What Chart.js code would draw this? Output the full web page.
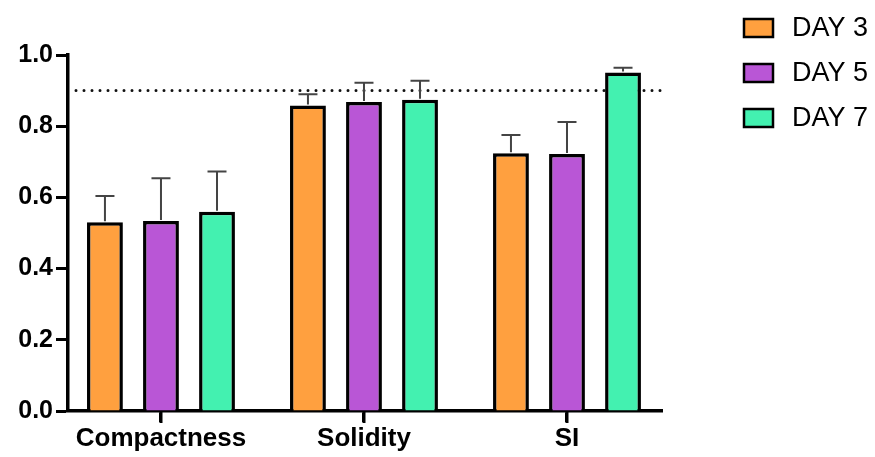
<!DOCTYPE html>
<html>
<head>
<meta charset="utf-8">
<script src="https://cdn.jsdelivr.net/npm/chart.js@4/dist/chart.umd.min.js"></script>
<style>
html,body{margin:0;padding:0;background:#fff;}
#wrap{width:875px;height:457px;position:relative;}
</style>
</head>
<body>
<div id="wrap"><canvas id="c" width="875" height="457"></canvas></div>
<script>
const categories = ["Compactness", "Solidity", "SI"];
const seriesNames = ["DAY 3", "DAY 5", "DAY 7"];
const day3 = [0.530, 0.858, 0.724];
const day5 = [0.534, 0.868, 0.722];
const day7 = [0.560, 0.874, 0.951];
const day3Err = [0.074, 0.032, 0.051];
const day5Err = [0.120, 0.054, 0.090];
const day7Err = [0.113, 0.054, 0.013];
const yTicks = [0.0, 0.2, 0.4, 0.6, 0.8, 1.0];
const refLine = 0.9;

const colors = ["#FFA03F", "#B956D6", "#43F1B0"];
const FONT = "'Liberation Sans', Arial, Helvetica, sans-serif";

function toPoints(vals){ return vals.map((v,i)=>({x:i, y:v})); }
const values = [day3, day5, day7];
const errs = [day3Err, day5Err, day7Err];

const errorBars = {
  id: 'errorBars',
  afterDatasetsDraw(chart){
    const ctx = chart.ctx, y = chart.scales.y;
    ctx.save();
    ctx.strokeStyle = '#444';
    ctx.lineWidth = 2;
    chart.data.datasets.forEach((ds, di) => {
      const meta = chart.getDatasetMeta(di);
      meta.data.forEach((bar, i) => {
        const top = y.getPixelForValue(values[di][i] + errs[di][i]);
        ctx.beginPath();
        ctx.moveTo(bar.x, bar.y - 1);
        ctx.lineTo(bar.x, top);
        ctx.moveTo(bar.x - 9.5, top);
        ctx.lineTo(bar.x + 9.5, top);
        ctx.stroke();
      });
    });
    ctx.restore();
  }
};

const refLinePlugin = {
  id: 'refLine',
  beforeDatasetsDraw(chart){
    const ctx = chart.ctx, y = chart.scales.y, a = chart.chartArea;
    const py = y.getPixelForValue(refLine);
    ctx.save();
    ctx.strokeStyle = '#111';
    ctx.lineWidth = 3;
    ctx.lineCap = 'round';
    ctx.setLineDash([0, 8]);
    ctx.beginPath();
    ctx.moveTo(a.left + 8, py);
    ctx.lineTo(a.right, py);
    ctx.stroke();
    ctx.restore();
  }
};

const xTickMarks = {
  id: 'xTickMarks',
  afterDraw(chart){
    const ctx = chart.ctx, x = chart.scales.x, a = chart.chartArea;
    ctx.save();
    ctx.strokeStyle = '#000';
    ctx.lineWidth = 3;
    categories.forEach((c, i) => {
      const px = Math.round(x.getPixelForValue(i));
      ctx.beginPath();
      ctx.moveTo(px, a.bottom);
      ctx.lineTo(px, a.bottom + 12);
      ctx.stroke();
    });
    ctx.restore();
  }
};

const legendPlugin = {
  id: 'customLegend',
  afterDraw(chart){
    const ctx = chart.ctx;
    ctx.save();
    seriesNames.forEach((name, i) => {
      const cy = 28 + i * 45;
      ctx.fillStyle = colors[i];
      ctx.fillRect(744, cy - 9, 29, 18);
      ctx.strokeStyle = '#000';
      ctx.lineWidth = 2.5;
      ctx.strokeRect(744, cy - 9, 29, 18);
      ctx.fillStyle = '#000';
      ctx.font = '27px ' + FONT;
      ctx.textBaseline = 'middle';
      ctx.textAlign = 'left';
      ctx.fillText(name, 792, cy + 1);
    });
    ctx.restore();
  }
};

new Chart(document.getElementById('c'), {
  type: 'bar',
  data: {
    datasets: seriesNames.map((n, i) => ({
      label: n,
      data: toPoints(values[i]),
      backgroundColor: colors[i],
      borderColor: '#000',
      borderWidth: 3.5,
      borderSkipped: 'bottom',
      categoryPercentage: 0.828,
      barPercentage: 0.64
    }))
  },
  options: {
    responsive: false,
    animation: false,
    devicePixelRatio: 1,
    layout: { padding: { top: 55, right: 213, left: 0, bottom: 0 } },
    plugins: { legend: { display: false }, tooltip: { enabled: false } },
    scales: {
      x: {
        type: 'linear',
        offset: false,
        bounds: 'data',
        min: -0.458,
        max: 2.468,
        afterBuildTicks(scale){ scale.ticks = categories.map((c, i) => ({ value: i })); },
        afterFit(scale){ scale.height = 46; },
        ticks: {
          callback: (v) => categories[v] !== undefined ? categories[v] : '',
          color: '#000',
          font: { family: FONT, size: 26, weight: 'bold' },
          padding: 1,
          maxRotation: 0,
          autoSkip: false
        },
        grid: { display: true, offset: false, drawOnChartArea: false, color: '#000', tickLength: 11, tickWidth: 3 },
        border: { display: true, color: '#000', width: 3.5 }
      },
      y: {
        min: 0,
        max: 1,
        afterBuildTicks(scale){ scale.ticks = yTicks.map(v => ({ value: v })); },
        afterFit(scale){ scale.width = 68; },
        ticks: {
          callback: (v) => Number(v).toFixed(1),
          color: '#000',
          font: { family: FONT, size: 25, weight: 'bold' },
          padding: 3
        },
        grid: { display: true, drawOnChartArea: false, color: '#000', tickLength: 12, tickWidth: 3 },
        border: { display: true, color: '#000', width: 3.5 }
      }
    }
  },
  plugins: [refLinePlugin, errorBars, xTickMarks, legendPlugin]
});
</script>
</body>
</html>
